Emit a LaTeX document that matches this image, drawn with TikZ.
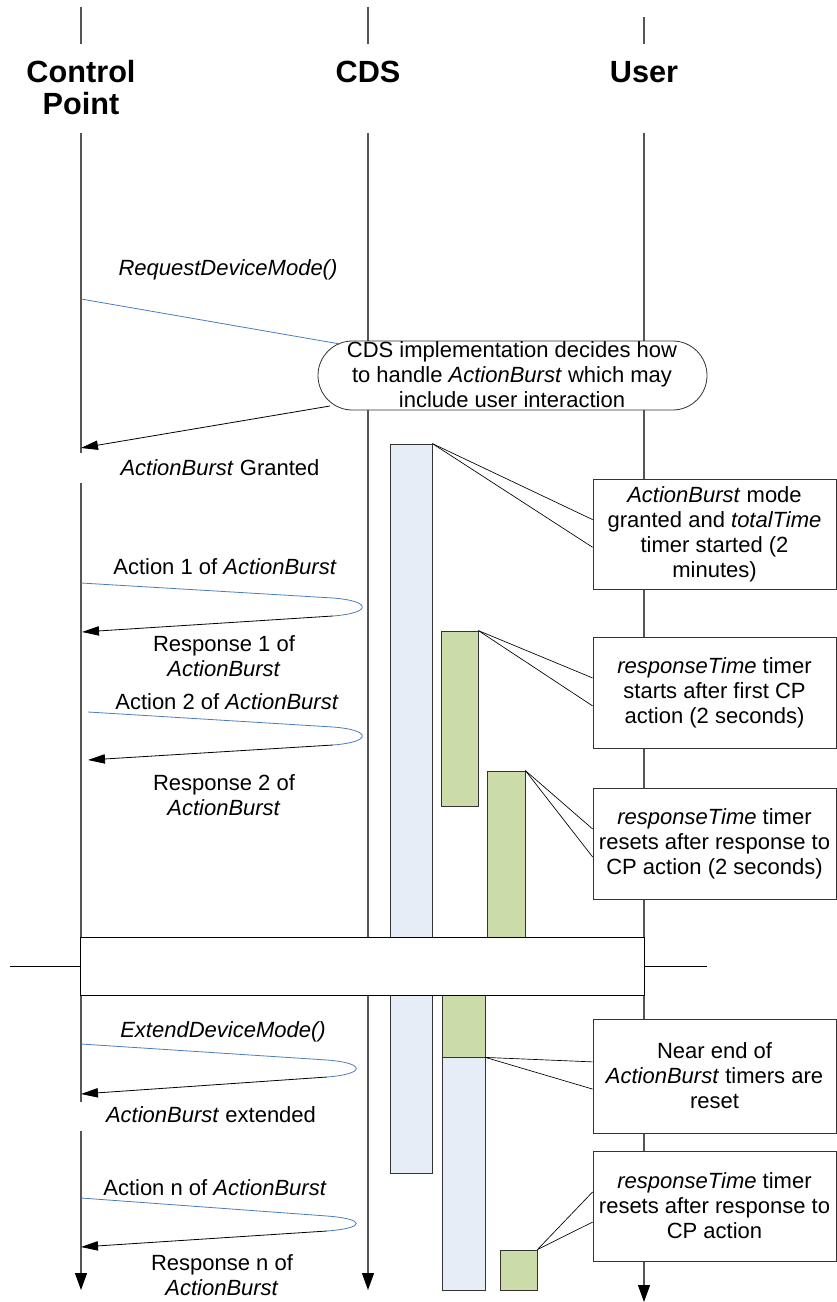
\documentclass[tikz,border=0pt]{standalone}
\usepackage{fontspec}
\setmainfont{Liberation Sans}
\usetikzlibrary{arrows.meta,fit,calc}
\definecolor{msgblue}{HTML}{4A7EBB}
\definecolor{barblue}{HTML}{E6EDF7}
\definecolor{bargreen}{HTML}{CCDCA9}
\definecolor{lifegray}{HTML}{555555}

\begin{document}
\begin{tikzpicture}[x=0.75pt,y=-0.75pt,
  every node/.style={font=\fontsize{16.5pt}{18.75pt}\selectfont},
  head/.style={font=\fontsize{23pt}{24pt}\selectfont\bfseries, align=center, inner sep=0pt},
  lifeline/.style={draw=lifegray, line width=0.8pt},
  lifeend/.style={lifeline, -{Triangle[length=12.75pt,width=9pt,black]}},
  request/.style={draw=msgblue, line width=0.6pt},
  reply/.style={draw=black, line width=0.6pt, -{Triangle[length=12.75pt,width=7pt]}},
  lbl/.style={align=center, inner sep=0pt},
  bar/.style={draw=black!80, line width=0.6pt, fill=barblue, inner sep=0pt},
  timer/.style={draw=black!80, line width=0.6pt, fill=bargreen, inner sep=0pt},
  note/.style={draw=black!80, line width=0.6pt, fill=white, inner sep=0pt, align=center},
  callout/.style={draw=black, line width=0.5pt},
]
\useasboundingbox (0,0) rectangle (837,1302);

% ---- participants ----
\node[head] (hcp)  at (81,88)  {Control\\Point};
\node[head] (hcds) at (368,72) {CDS};
\node[head] (husr) at (644,72) {User};

% ---- lifelines ----
\coordinate (cp0) at (81,7);    \coordinate (cp1) at (81,44);
\coordinate (cp2) at (81,133);  \coordinate (cp3) at (81,453);
\coordinate (cp4) at (81,483);  \coordinate (cp5) at (81,1102);
\coordinate (cp6) at (81,1131); \coordinate (cp7) at (81,1290);
\coordinate (cd0) at (368,7);   \coordinate (cd1) at (368,44);
\coordinate (cd2) at (368,133); \coordinate (cd3) at (368,1290);
\coordinate (us0) at (644,17);  \coordinate (us1) at (644,44);
\coordinate (us2) at (644,133); \coordinate (us3) at (644,1302);

\draw[lifeline] (cp0) -- (cp1);
\draw[lifeline] (cp2) -- (cp3);
\draw[lifeline] (cp4) -- (cp5);
\draw[lifeend]  (cp6) -- (cp7);
\draw[lifeline] (cd0) -- (cd1);
\draw[lifeend]  (cd2) -- (cd3);
\draw[lifeline] (us0) -- (us1);
\draw[lifeend]  (us2) -- (us3);

% ---- mode request and grant ----
\node[draw=black!80, line width=0.6pt, fill=white, inner sep=0pt, align=center,
      rounded corners=25.8pt, fit={(318,341) (707,410)}] (impl) {};
\node[lbl] (impltxt) at (512,375) {CDS implementation decides how\\to handle \textit{ActionBurst} which may\\include user interaction};

\coordinate (rq-s) at (81,299);
\coordinate (rq-e) at (340,344);
\draw[request] (rq-s) -- (rq-e);
\node[lbl] (rqlbl) at (228,270) {\textit{RequestDeviceMode()}};

\coordinate (gr-s) at (330,406);
\coordinate (gr-e) at (81,448);
\draw[reply] (gr-s) -- (gr-e);
\node[lbl] (grlbl) at (220,468) {\textit{ActionBurst} Granted};

% ---- action / response loops ----
\coordinate (a1-s) at (81,583);  \coordinate (a1-t) at (333,598);
\coordinate (a1-b) at (333,616); \coordinate (a1-e) at (82,632);
\draw[request] (a1-s) -- (a1-t) .. controls +(39,3) and +(39,-3) .. (a1-b);
\draw[reply] (a1-b) -- (a1-e);
\node[lbl] (a1lbl) at (225,567) {Action 1 of \textit{ActionBurst}};
\node[lbl] (r1lbl) at (224,656) {Response 1 of\\\textit{ActionBurst}};

\coordinate (a2-s) at (88,712);  \coordinate (a2-t) at (333,727);
\coordinate (a2-b) at (333,745); \coordinate (a2-e) at (88,760);
\draw[request] (a2-s) -- (a2-t) .. controls +(39,3) and +(39,-3) .. (a2-b);
\draw[reply] (a2-b) -- (a2-e);
\node[lbl] (a2lbl) at (227,702) {Action 2 of \textit{ActionBurst}};
\node[lbl] (r2lbl) at (224,795) {Response 2 of\\\textit{ActionBurst}};

\coordinate (x-s) at (81,1044);  \coordinate (x-t) at (327,1060);
\coordinate (x-b) at (327,1077); \coordinate (x-e) at (81,1094);
\draw[request] (x-s) -- (x-t) .. controls +(39,3) and +(39,-3) .. (x-b);
\draw[reply] (x-b) -- (x-e);
\node[lbl] (xlbl) at (223,1032) {\textit{ExtendDeviceMode()}};
\node[lbl] (xrlbl) at (211,1115) {\textit{ActionBurst} extended};

\coordinate (an-s) at (81,1198);  \coordinate (an-t) at (327,1216);
\coordinate (an-b) at (327,1231); \coordinate (an-e) at (81,1247);
\draw[request] (an-s) -- (an-t) .. controls +(39,3) and +(39,-3) .. (an-b);
\draw[reply] (an-b) -- (an-e);
\node[lbl] (anlbl) at (215,1188) {Action n of \textit{ActionBurst}};
\node[lbl] (rnlbl) at (222,1275) {Response n of\\\textit{ActionBurst}};

% ---- activation bars ----
\node[bar,   fit={(390,444) (432,1173)}] (b1) {};
\node[timer, fit={(441,631) (478,806)}]  (g1) {};
\node[timer, fit={(487,771) (525,945)}]  (g2) {};
\node[timer, fit={(442,990) (485,1057)}] (g3) {};
\node[bar,   fit={(442,1057) (485,1290)}] (b2) {};
\node[timer, fit={(500,1250) (537,1290)}] (g4) {};

% ---- time break ----
\node[draw=black, line width=0.7pt, fill=white, inner sep=0pt, fit={(80,937) (644,995)}] (brk) {};
\coordinate (brk-l) at (10,966);
\coordinate (brk-r) at (707,966);
\draw[black, line width=0.7pt] (brk-l) -- (brk.west);
\draw[black, line width=0.7pt] (brk.east) -- (brk-r);

% ---- notes ----
\node[note, fit={(593,479) (836,589)}] (n1) {};
\node[lbl] at (n1.center) {\textit{ActionBurst} mode\\granted and \textit{totalTime}\\timer started (2\\minutes)};
\node[note, fit={(593,637) (836,748)}] (n2) {};
\node[lbl] at (n2.center) {\textit{responseTime} timer\\starts after first CP\\action (2 seconds)};
\node[note, fit={(593,788) (836,899)}] (n3) {};
\node[lbl] at (n3.center) {\textit{responseTime} timer\\resets after response to\\CP action (2 seconds)};
\node[note, fit={(593,1019) (836,1133)}] (n4) {};
\node[lbl] at (n4.center) {Near end of\\\textit{ActionBurst} timers are\\reset};
\node[note, fit={(593,1151) (836,1261)}] (n5) {};
\node[lbl] at (n5.center) {\textit{responseTime} timer\\resets after response to\\CP action};

% ---- callout lines ----
\draw[callout] (b1.north east) -- ($(n1.north west)!0.37!(n1.south west)$);
\draw[callout] (b1.north east) -- ($(n1.north west)!0.62!(n1.south west)$);
\draw[callout] (g1.north east) -- ($(n2.north west)!0.37!(n2.south west)$);
\draw[callout] (g1.north east) -- ($(n2.north west)!0.62!(n2.south west)$);
\draw[callout] (g2.north east) -- ($(n3.north west)!0.37!(n3.south west)$);
\draw[callout] (g2.north east) -- ($(n3.north west)!0.62!(n3.south west)$);
\draw[callout] (g3.south east) -- ($(n4.north west)!0.377!(n4.south west)$);
\draw[callout] (g3.south east) -- ($(n4.north west)!0.614!(n4.south west)$);
\draw[callout] (g4.north east) -- ($(n5.north west)!0.373!(n5.south west)$);
\draw[callout] (g4.north east) -- ($(n5.north west)!0.645!(n5.south west)$);

\end{tikzpicture}
\end{document}
